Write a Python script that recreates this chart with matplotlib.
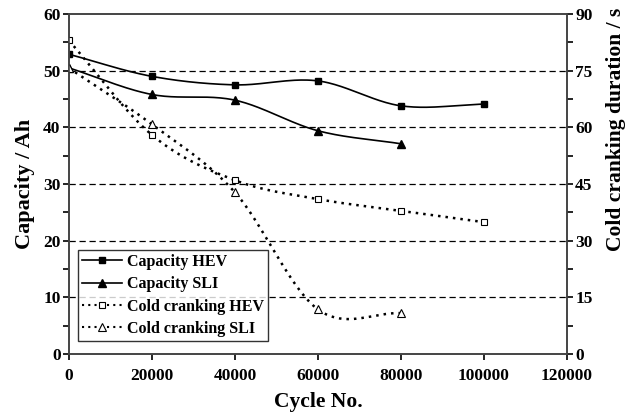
import numpy as np
import matplotlib.pyplot as plt
from matplotlib.lines import Line2D

plt.rcParams['font.family'] = ['Liberation Serif', 'DejaVu Serif']
plt.rcParams['font.weight'] = 'bold'

cycles = [0, 20000, 40000, 60000, 80000, 100000]
cap_hev = [52.9, 49.0, 47.5, 48.2, 43.8, 44.1]
cap_sli = [50.5, 45.8, 44.8, 39.4, 37.1]
cold_hev = [83.0, 58.0, 46.0, 41.0, 37.9, 34.9]
cold_sli = [75.7, 60.8, 42.8, 11.8, 10.8]


def smooth(x, y, n=40):
    # catmull-rom curve through the points, like excel's smoothed line
    x = np.asarray(x, float)
    y = np.asarray(y, float)
    px = np.concatenate([[2 * x[0] - x[1]], x, [2 * x[-1] - x[-2]]])
    py = np.concatenate([[2 * y[0] - y[1]], y, [2 * y[-1] - y[-2]]])
    t = np.linspace(0, 1, n)
    xs, ys = [], []
    for i in range(1, len(px) - 2):
        for p, out in ((px, xs), (py, ys)):
            p0, p1, p2, p3 = p[i - 1], p[i], p[i + 1], p[i + 2]
            out.extend(0.5 * (2 * p1 + (-p0 + p2) * t
                              + (2 * p0 - 5 * p1 + 4 * p2 - p3) * t ** 2
                              + (-p0 + 3 * p1 - 3 * p2 + p3) * t ** 3))
    return xs, ys


fig = plt.figure(figsize=(6.32, 4.13), dpi=100)
ax = fig.add_axes([0.109, 0.143, 0.788, 0.823])
ax2 = ax.twinx()

for yv in [10, 20, 30, 40, 50]:
    ax.axhline(yv, color='black', lw=0.9, ls=(0, (5, 3)), zorder=0)

ax.plot(*smooth(cycles, cap_hev), color='black', lw=1.2)
ax.plot(cycles, cap_hev, 's', color='black', ms=5)
ax.plot(*smooth(cycles[:5], cap_sli), color='black', lw=1.2)
ax.plot(cycles[:5], cap_sli, '^', color='black', ms=6)

ax2.plot(*smooth(cycles, cold_hev), color='black', lw=1.8, ls=(0, (1, 2)))
ax2.plot(cycles, cold_hev, 's', mfc='white', mec='black', mew=0.8, ms=5)
ax2.plot(*smooth(cycles[:5], cold_sli), color='black', lw=1.8, ls=(0, (1, 2)))
ax2.plot(cycles[:5], cold_sli, '^', mfc='white', mec='black', mew=0.8, ms=6)

ax.set_xlim(0, 120000)
ax.set_ylim(0, 60)
ax2.set_ylim(0, 90)
ax.set_xticks(range(0, 120001, 20000))
ax.set_yticks(range(0, 61, 10))
ax.set_yticks(range(5, 60, 10), minor=True)
ax2.set_yticks(range(0, 91, 15))
ax2.set_yticks(np.arange(7.5, 90, 15), minor=True)

for a in (ax, ax2):
    a.tick_params(labelsize=12.5, width=1.2, length=4, direction='out', pad=2)
    a.tick_params(which='minor', width=1.2, length=4)
    for s in a.spines.values():
        s.set_linewidth(1.2)
        s.set_color('#444444')
ax.tick_params(axis='x', pad=6)

ax.set_xlabel('Cycle No.', fontsize=15.5, fontweight='bold', labelpad=6)
ax.set_ylabel('Capacity / Ah', fontsize=16, fontweight='bold', labelpad=6)
ax2.set_ylabel('Cold cranking duration / s', fontsize=15.5, fontweight='bold')
ax2.yaxis.set_label_coords(1.078, 0.66)

handles = [
    Line2D([], [], color='black', lw=1.2, marker='s', ms=5),
    Line2D([], [], color='black', lw=1.2, marker='^', ms=6),
    Line2D([], [], color='black', lw=1.5, ls=(0, (1, 2)), marker='s', mfc='white', ms=5, mew=0.8),
    Line2D([], [], color='black', lw=1.5, ls=(0, (1, 2)), marker='^', mfc='white', ms=6, mew=0.8),
]
leg = ax2.legend(handles, ['Capacity HEV', 'Capacity SLI', 'Cold cranking HEV', 'Cold cranking SLI'],
                 loc='lower left', bbox_to_anchor=(0.018, 0.038), borderaxespad=0, fontsize=11.5,
                 fancybox=False, handlelength=2.5, handletextpad=0.3, labelspacing=0.4,
                 borderpad=0.25)
leg.get_frame().set_edgecolor('black')
leg.get_frame().set_linewidth(1.0)

fig.savefig('out.png', dpi=100)
